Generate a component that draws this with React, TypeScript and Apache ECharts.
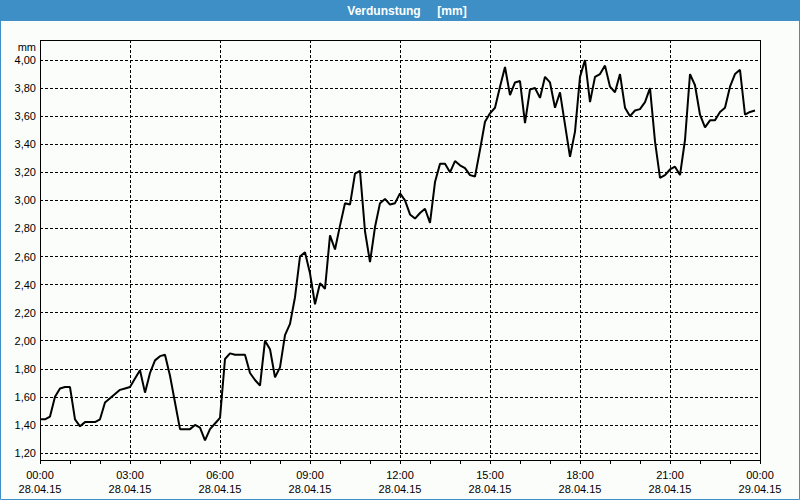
import React, { useEffect, useRef } from "react";
import * as echarts from "echarts";

// Evaporation values, every 10 minutes from 28.04.15 00:00 to 23:50
const values: number[] = [
  1.44, 1.44, 1.46, 1.60, 1.66, 1.67, 1.67, 1.44, 1.39, 1.42,
  1.42, 1.42, 1.44, 1.56, 1.59, 1.62, 1.65, 1.66, 1.67, 1.73,
  1.79, 1.63, 1.77, 1.86, 1.89, 1.90, 1.75, 1.56, 1.37, 1.37,
  1.37, 1.40, 1.38, 1.29, 1.37, 1.41, 1.45, 1.87, 1.91, 1.90,
  1.90, 1.90, 1.77, 1.72, 1.68, 2.00, 1.94, 1.74, 1.81, 2.04,
  2.12, 2.31, 2.60, 2.63, 2.48, 2.26, 2.41, 2.37, 2.75, 2.65,
  2.82, 2.98, 2.97, 3.19, 3.21, 2.78, 2.56, 2.81, 2.98, 3.01,
  2.97, 2.98, 3.05, 3.00, 2.90, 2.87, 2.91, 2.94, 2.84, 3.13,
  3.26, 3.26, 3.20, 3.28, 3.25, 3.23, 3.18, 3.17, 3.36, 3.56,
  3.62, 3.66, 3.81, 3.95, 3.75, 3.84, 3.85, 3.55, 3.79, 3.80,
  3.73, 3.88, 3.84, 3.66, 3.77, 3.54, 3.31, 3.49, 3.88, 4.00,
  3.70, 3.88, 3.90, 3.96, 3.81, 3.77, 3.90, 3.66, 3.60, 3.64,
  3.65, 3.70, 3.80, 3.42, 3.16, 3.18, 3.22, 3.24, 3.18, 3.43,
  3.90, 3.82, 3.61, 3.52, 3.57, 3.57, 3.63, 3.66, 3.81, 3.90,
  3.93, 3.61, 3.63, 3.64,
];
const stepMinutes = 10;

const xTimeLabels: string[] = ["00:00", "03:00", "06:00", "09:00", "12:00", "15:00", "18:00", "21:00", "00:00"];
const xDateLabels: string[] = ["28.04.15", "28.04.15", "28.04.15", "28.04.15", "28.04.15", "28.04.15", "28.04.15", "28.04.15", "29.04.15"];

const yMin = 1.2;
const yMax = 4.0;
const yStep = 0.2;

const title = "Verdunstung     [mm]";
const unit = "mm";

const FONT = "'Liberation Sans', Arial, sans-serif";
const BLUE = "#3d8fc6";

export default function App() {
  const ref = useRef<HTMLDivElement>(null);
  useEffect(() => {
    document.body.style.margin = "0";
    const chart = echarts.init(ref.current!, null, { renderer: "svg" });
    const data = values.map((v, i) => [i * stepMinutes, v]);
    const gridLine = { show: true, lineStyle: { color: "#000", type: [3, 2] as any, width: 1 } };
    chart.setOption({
      animation: false,
      backgroundColor: "#fbfdfb",
      textStyle: { fontFamily: FONT },
      grid: [
        { left: 40, right: 40, top: 40, bottom: 40 },
        { left: 40, right: 40, top: 60, bottom: 47 },
      ],
      xAxis: [
        {
          type: "value",
          gridIndex: 0,
          min: 0,
          max: 1440,
          interval: 180,
          axisLine: { show: false },
          axisTick: { show: true, length: 4, lineStyle: { color: "#000" } },
          minorTick: { show: true, splitNumber: 3, length: 4, lineStyle: { color: "#000" } },
          splitLine: gridLine,
          axisLabel: {
            margin: 8,
            color: "#000",
            fontSize: 11,
            fontFamily: FONT,
            lineHeight: 14,
            formatter: (v: number) => {
              const i = Math.round(v / 180);
              return xTimeLabels[i] + "\n" + xDateLabels[i];
            },
          },
        },
        {
          type: "value",
          gridIndex: 1,
          min: 0,
          max: 1440,
          show: false,
        },
      ],
      yAxis: [
        { type: "value", gridIndex: 0, min: 0, max: 1, show: false },
        {
          type: "value",
          gridIndex: 1,
          min: yMin,
          max: yMax,
          interval: yStep,
          axisLine: { show: false },
          axisTick: { show: false },
          splitLine: gridLine,
          axisLabel: {
            margin: 4,
            color: "#000",
            fontSize: 11,
            fontFamily: FONT,
            formatter: (v: number) => v.toFixed(2).replace(".", ","),
          },
        },
      ],
      graphic: [
        { type: "rect", shape: { x: 0, y: 0, width: 800, height: 21 }, style: { fill: BLUE }, silent: true },
        {
          type: "text",
          x: 407,
          y: 11,
          style: {
            text: title,
            fill: "#fff",
            font: `bold 12px ${FONT}`,
            textAlign: "center",
            textVerticalAlign: "middle",
          },
          silent: true,
        },
        {
          type: "rect",
          shape: { x: 0.5, y: 0.5, width: 799, height: 499 },
          style: { fill: "none", stroke: BLUE, lineWidth: 1 },
          silent: true,
        },
        {
          type: "rect",
          shape: { x: 40.5, y: 40.5, width: 720, height: 420 },
          style: { fill: "none", stroke: "#000", lineWidth: 1 },
          silent: true,
          z: 10,
        },
        {
          type: "text",
          x: 36,
          y: 47,
          style: {
            text: unit,
            fill: "#000",
            font: `11px ${FONT}`,
            textAlign: "right",
            textVerticalAlign: "middle",
          },
          silent: true,
        },
      ],
      series: [
        {
          type: "line",
          xAxisIndex: 1,
          yAxisIndex: 1,
          data,
          showSymbol: false,
          clip: false,
          lineStyle: { color: "#000", width: 2 },
          z: 5,
        },
      ],
    });
    return () => chart.dispose();
  }, []);
  return <div ref={ref} style={{ position: "fixed", left: 0, top: 0, width: 800, height: 500 }} />;
}
